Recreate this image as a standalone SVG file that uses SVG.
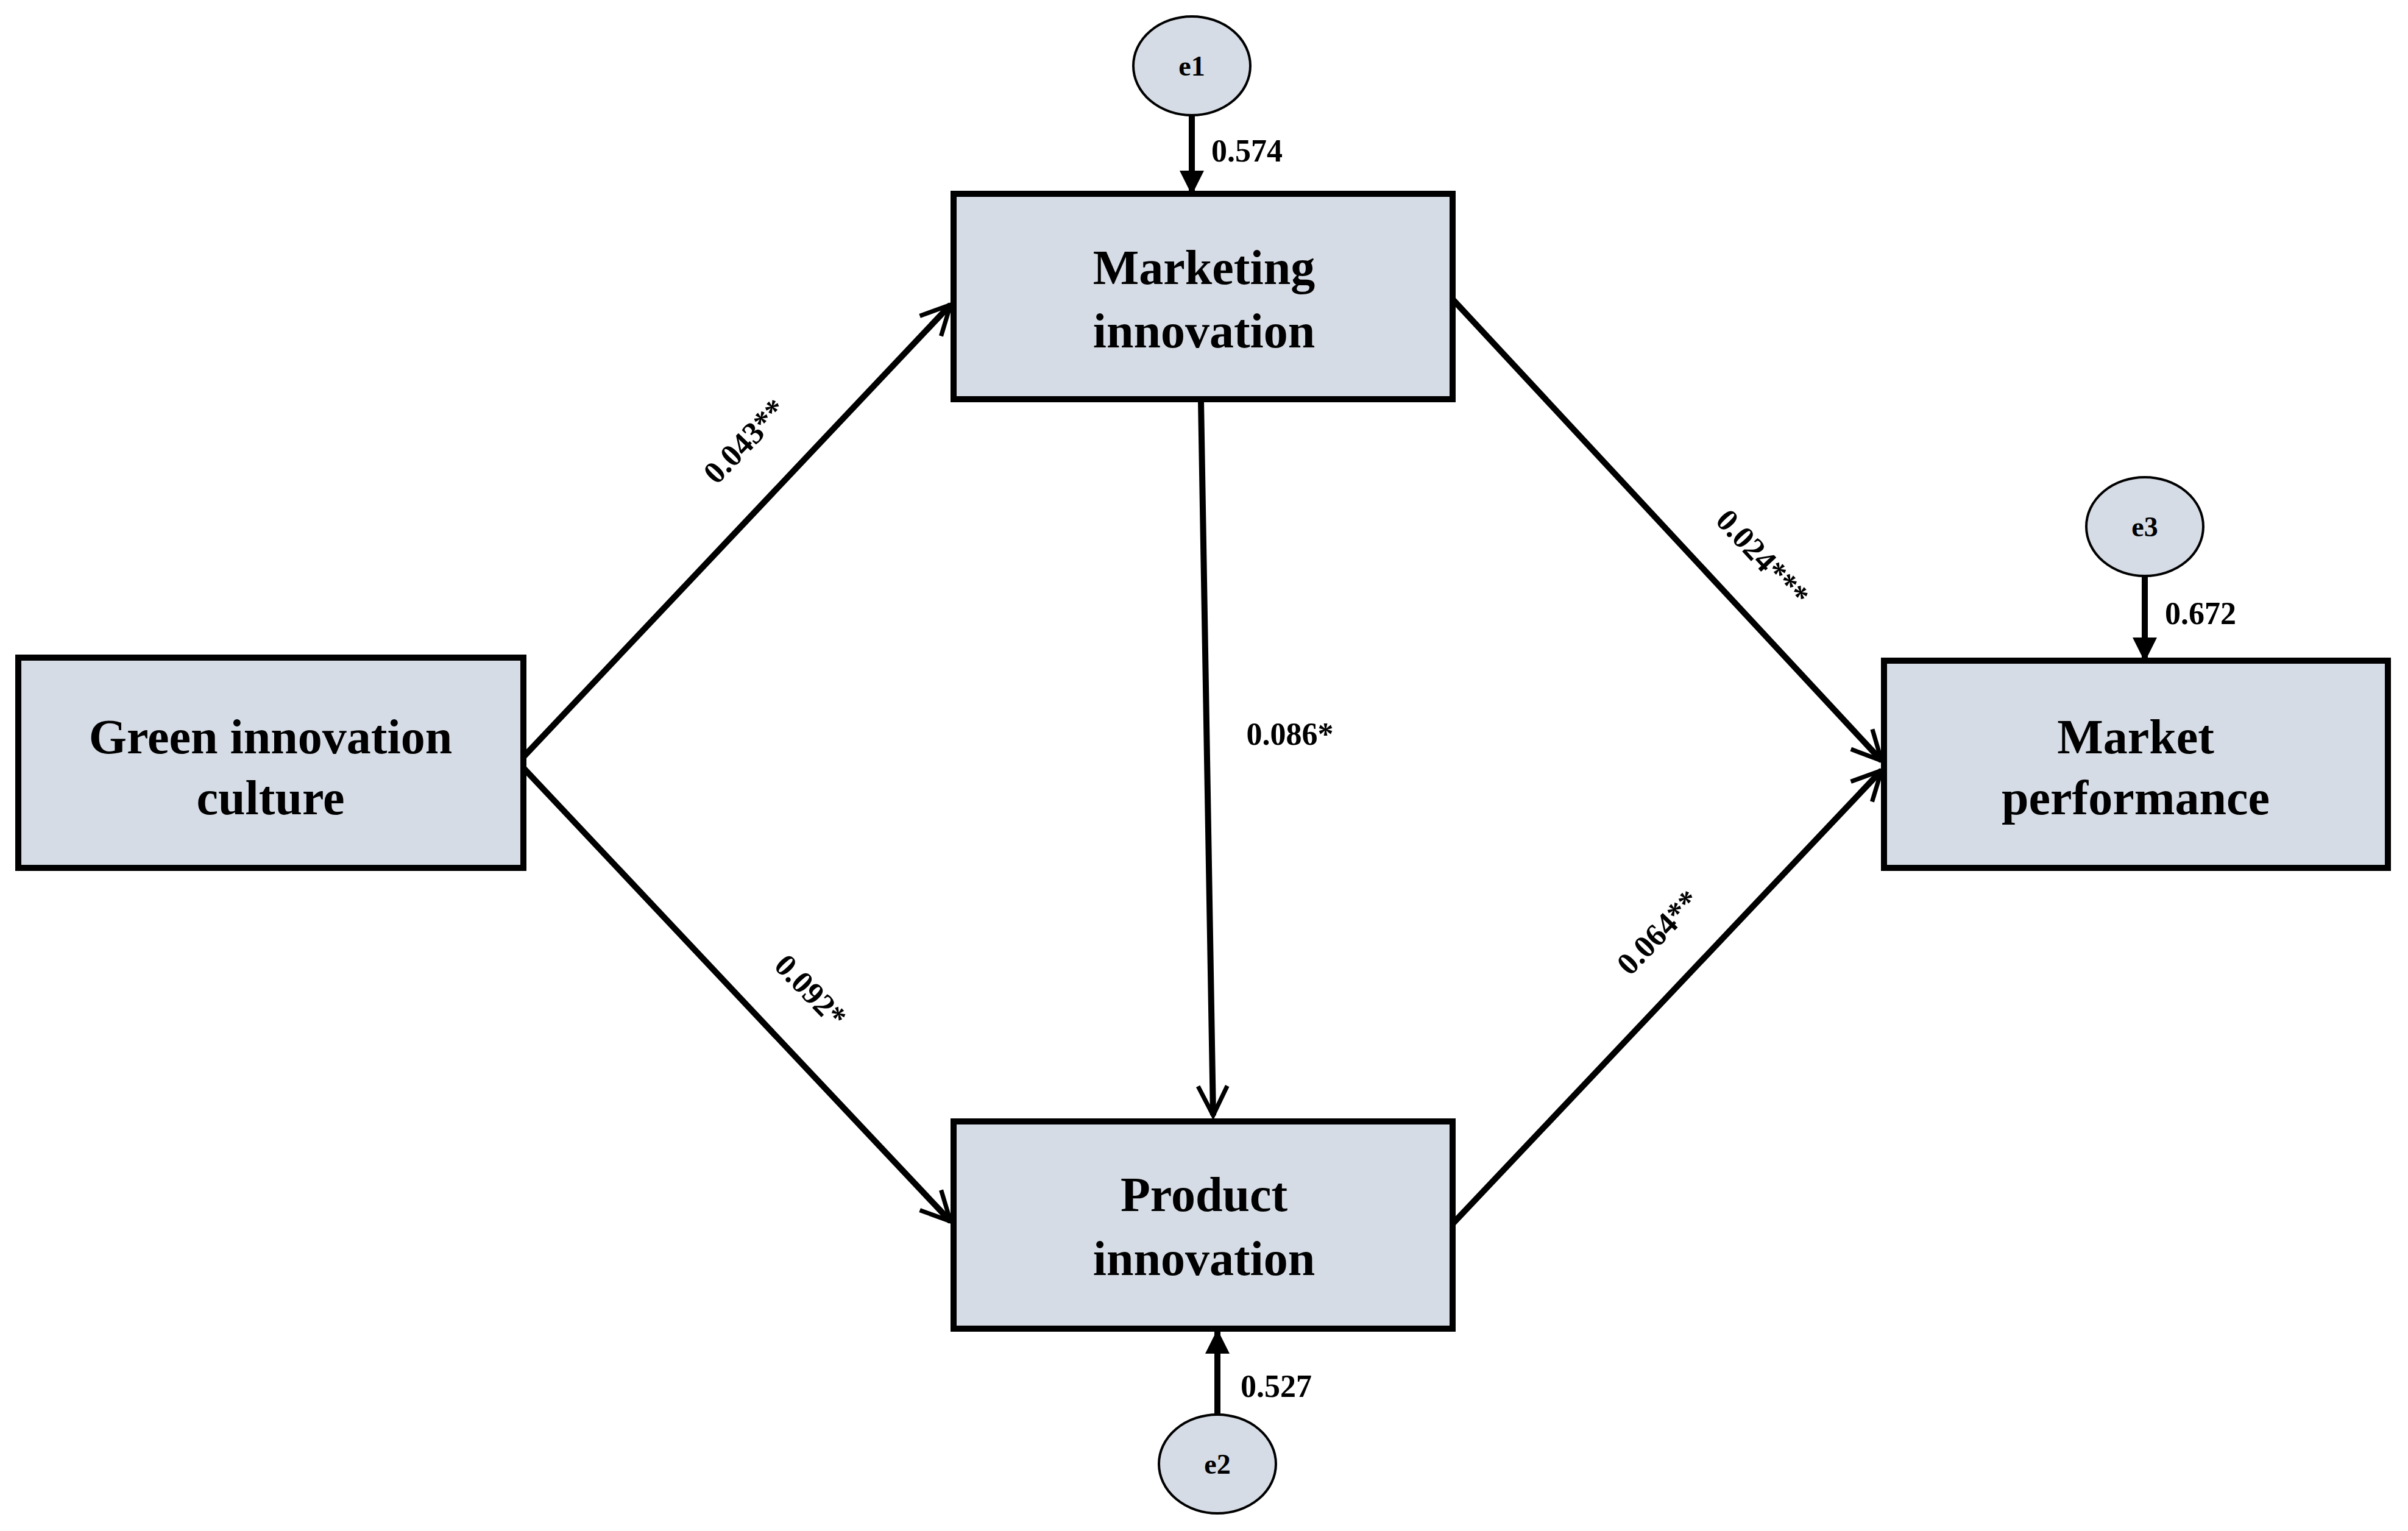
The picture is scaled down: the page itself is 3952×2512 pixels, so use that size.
<svg xmlns="http://www.w3.org/2000/svg" width="3952" height="2512" viewBox="0 0 3952 2512">
<style>
.box{fill:#d6dce5;stroke:#000;stroke-width:10}
.ell{fill:#d6dce5;stroke:#000;stroke-width:4}
.t{font-family:"Liberation Serif",serif;font-weight:bold;font-size:80px;text-anchor:middle;fill:#000}
.e{font-family:"Liberation Serif",serif;font-weight:bold;font-size:46px;text-anchor:middle}
.l{font-family:"Liberation Serif",serif;font-weight:bold;font-size:52px;fill:#000}
.c{stroke:#000;stroke-width:10;fill:none}
</style>
<defs>
<marker id="a" viewBox="0 0 10 10" refX="9" refY="5" markerWidth="6" markerHeight="6" orient="auto" markerUnits="strokeWidth">
<path d="M1,1 L9,5 L1,9" fill="none" stroke="#000" stroke-width="1.2"/>
</marker>
<marker id="s" viewBox="0 0 10 10" refX="9" refY="5" markerWidth="4" markerHeight="4" orient="auto" markerUnits="strokeWidth">
<path d="M0,0 L10,5 L0,10 Z" fill="#000"/>
</marker>
</defs>
<rect width="3952" height="2512" fill="#fff"/>
<g id="connectors">
<line class="c" x1="859" y1="1242" x2="1560" y2="500" marker-end="url(#a)"/>
<line class="c" x1="859" y1="1260" x2="1560" y2="2004" marker-end="url(#a)"/>
<line class="c" x1="1971" y1="658" x2="1991" y2="1830" marker-end="url(#a)"/>
<line class="c" x1="2384" y1="491" x2="3088" y2="1248" marker-end="url(#a)"/>
<line class="c" x1="2384" y1="2008" x2="3088" y2="1264" marker-end="url(#a)"/>
<line class="c" x1="1956" y1="189" x2="1956" y2="316" marker-end="url(#s)"/>
<line class="c" x1="1998" y1="2321" x2="1998" y2="2185" marker-end="url(#s)"/>
<line class="c" x1="3520" y1="945" x2="3520" y2="1082" marker-end="url(#s)"/>
<text class="l" text-anchor="middle" transform="translate(1235,736) rotate(-46)">0.043**</text>
<text class="l" text-anchor="middle" transform="translate(1318,1638) rotate(46)">0.092*</text>
<text class="l" text-anchor="middle" x="2117" y="1222">0.086*</text>
<text class="l" text-anchor="middle" transform="translate(2880,927) rotate(47)">0.024***</text>
<text class="l" text-anchor="middle" transform="translate(2734,1542) rotate(-46)">0.064**</text>
<text class="l" x="1988" y="265">0.574</text>
<text class="l" x="2036" y="2292">0.527</text>
<text class="l" x="3553" y="1024">0.672</text>
</g>
<g id="green"><rect class="box" x="30" y="1079" width="829" height="345"/>
<text class="t" x="444" y="1236">Green innovation</text><text class="t" x="444" y="1336">culture</text></g>
<g id="marketing"><rect class="box" x="1565" y="318" width="819" height="337"/>
<text class="t" x="1976" y="466">Marketing</text><text class="t" x="1976" y="570">innovation</text></g>
<g id="product"><rect class="box" x="1565" y="1840" width="819" height="340"/>
<text class="t" x="1976" y="1987">Product</text><text class="t" x="1976" y="2092">innovation</text></g>
<g id="market"><rect class="box" x="3092" y="1084" width="827" height="340"/>
<text class="t" x="3505" y="1236">Market</text><text class="t" x="3505" y="1336">performance</text></g>
<g id="e1"><ellipse class="ell" cx="1956" cy="108" rx="96" ry="81"/><text class="e" x="1956" y="124">e1</text></g>
<g id="e2"><ellipse class="ell" cx="1998" cy="2402" rx="96" ry="81"/><text class="e" x="1998" y="2418">e2</text></g>
<g id="e3"><ellipse class="ell" cx="3520" cy="864" rx="96" ry="81"/><text class="e" x="3520" y="880">e3</text></g>
</svg>
